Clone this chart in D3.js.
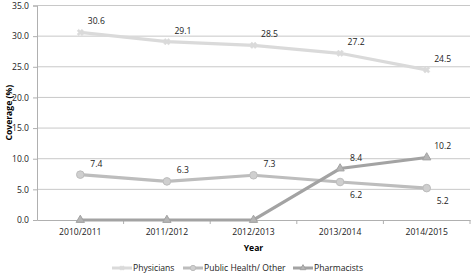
<!DOCTYPE html>
<html lang="en">
<head>
<meta charset="UTF-8" />
<title>Coverage by provider</title>
<script src="https://d3js.org/d3.v7.min.js"></script>
<style>
  body { margin: 0; background: #fff; }
  svg { display: block; font-family: "Open Sans", "Noto Sans", sans-serif; }
  .tick text { fill: #222; }
</style>
</head>
<body>
<svg width="472" height="274"></svg>
<script>
  // data
  const years = ["2010/2011", "2011/2012", "2012/2013", "2013/2014", "2014/2015"];
  const physicians = [30.6, 29.1, 28.5, 27.2, 24.5];
  const publicHealth = [7.4, 6.3, 7.3, 6.2, 5.2];
  const pharmacists = [0, 0, 0, 8.4, 10.2];
  const yTicks = [0, 5, 10, 15, 20, 25, 30, 35];

  const series = [
    { name: "Physicians", values: physicians, color: "#dadada", marker: "star", labels: [1, 1, 1, 1, 1] },
    { name: "Public Health/ Other", values: publicHealth, color: "#bdbdbd", marker: "circle", labels: [1, 1, 1, -1, -1] },
    { name: "Pharmacists", values: pharmacists, color: "#a3a3a3", marker: "triangle", labels: [0, 0, 0, 1, 1] }
  ];

  const fs = 8.6;
  const svg = d3.select("svg");
  const margin = { left: 37, right: 2, top: 5.5, bottom: 54 };
  const width = 472, height = 274;

  const x = d3.scaleBand().domain(years).range([margin.left, width - margin.right]);
  const y = d3.scaleLinear().domain([0, 35]).range([height - margin.bottom, margin.top]);
  const cx = d => x(d) + x.bandwidth() / 2;

  // grid
  svg.append("g")
    .selectAll("line")
    .data(yTicks.slice(1))
    .join("line")
    .attr("x1", margin.left).attr("x2", width - margin.right)
    .attr("y1", d => y(d)).attr("y2", d => y(d))
    .attr("stroke", "#c8c8c8").attr("stroke-width", 1);

  // y axis
  const yAxis = svg.append("g")
    .attr("transform", `translate(${margin.left},0)`)
    .call(d3.axisLeft(y).tickValues(yTicks).tickFormat(d3.format(".1f")).tickSize(4).tickPadding(4));
  yAxis.select(".domain").attr("stroke", "#b0b0b0");
  yAxis.selectAll(".tick line").attr("stroke", "#b0b0b0");
  yAxis.selectAll("text").attr("font-size", fs).attr("font-family", "Open Sans, sans-serif");

  // x axis
  const xAxis = svg.append("g")
    .attr("transform", `translate(0,${y(0)})`)
    .call(d3.axisBottom(x).tickSize(0).tickPadding(9));
  xAxis.select(".domain").attr("stroke", "#b0b0b0");
  xAxis.selectAll("text").attr("font-size", fs).attr("font-family", "Open Sans, sans-serif");
  // boundary ticks between categories
  svg.append("g")
    .selectAll("line")
    .data(years.slice(1).concat(["end"]))
    .join("line")
    .attr("x1", (d, i) => i < years.length - 1 ? x(d) : width - margin.right)
    .attr("x2", (d, i) => i < years.length - 1 ? x(d) : width - margin.right)
    .attr("y1", y(0)).attr("y2", y(0) + 4)
    .attr("stroke", "#b0b0b0");

  // axis titles
  svg.append("text")
    .attr("transform", `translate(12,${(y(0) + y(35)) / 2}) rotate(-90)`)
    .attr("text-anchor", "middle")
    .attr("font-size", fs).attr("font-weight", "bold")
    .text("Coverage (%)");
  svg.append("text")
    .attr("x", cx(years[2])).attr("y", 251)
    .attr("text-anchor", "middle")
    .attr("font-size", fs).attr("font-weight", "bold")
    .text("Year");

  const line = d3.line().x((d, i) => cx(years[i])).y(d => y(d));

  function drawMarker(g, type, color, px, py, k) {
    k = k || 1;
    if (type === "circle") {
      g.append("circle").attr("cx", px).attr("cy", py).attr("r", 3.8 * k)
        .attr("fill", d3.color(color).brighter(0.25)).attr("stroke", color).attr("stroke-width", 1);
    } else if (type === "triangle") {
      g.append("path").attr("d", d3.symbol(d3.symbolTriangle, 30 * k * k)())
        .attr("transform", `translate(${px},${py})`)
        .attr("fill", d3.color(color).brighter(0.3)).attr("stroke", color);
    } else {
      g.append("path").attr("d", d3.symbol(d3.symbolCross, 26 * k * k)())
        .attr("transform", `translate(${px},${py}) rotate(45)`)
        .attr("fill", color).attr("stroke", color).attr("stroke-width", 0.5);
    }
  }

  series.forEach(s => {
    const g = svg.append("g");
    g.append("path")
      .datum(s.values)
      .attr("d", line)
      .attr("fill", "none")
      .attr("stroke", s.color)
      .attr("stroke-width", 3.2);
    s.values.forEach((v, i) => drawMarker(g, s.marker, s.color, cx(years[i]), y(v)));
    s.values.forEach((v, i) => {
      if (!s.labels[i]) return;
      g.append("text")
        .attr("x", cx(years[i]) + 16)
        .attr("y", y(v) + (s.labels[i] > 0 ? -8 : 16))
        .attr("text-anchor", "middle")
        .attr("font-size", fs)
        .attr("fill", "#222")
        .text(v.toFixed(1));
    });
  });

  // legend
  const legendX = [112, 183, 293];
  series.forEach((s, i) => {
    const g = svg.append("g").attr("transform", `translate(${legendX[i]},268)`);
    g.append("line").attr("x1", 0).attr("x2", 20).attr("y1", 0).attr("y2", 0)
      .attr("stroke", s.color).attr("stroke-width", 3);
    drawMarker(g, s.marker, s.color, 10, 0, 0.7);
    g.append("text").attr("x", 21).attr("y", 3)
      .attr("font-size", fs).attr("fill", "#222")
      .text(s.name);
  });
</script>
</body>
</html>
